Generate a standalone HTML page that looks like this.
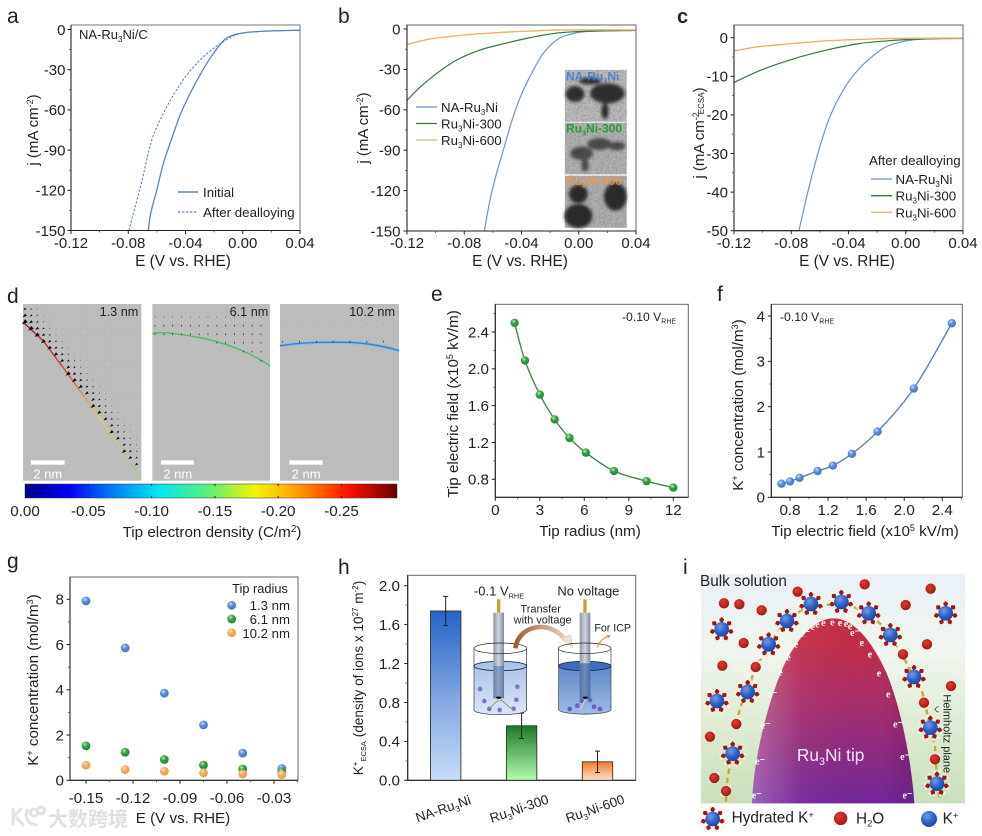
<!DOCTYPE html>
<html lang="en">
<head>
<meta charset="utf-8">
<title>Ru3Ni tip figure</title>
<style>
html,body{margin:0;padding:0;background:#fff;}
#figure{display:block;width:982px;height:836px;filter:blur(.35px);font-family:"Liberation Sans","Noto Sans CJK SC",sans-serif;fill:#222;}
text{font-family:"Liberation Sans","Noto Sans CJK SC",sans-serif;}
</style>
</head>
<body>
<svg id="figure" xmlns="http://www.w3.org/2000/svg" width="982" height="836" viewBox="0 0 982 836">
<defs>
  <radialGradient id="ballBlue" cx=".38" cy=".32" r=".75"><stop offset="0" stop-color="#c9dbf5"/><stop offset=".4" stop-color="#5f8fd8"/><stop offset="1" stop-color="#3f6fc0"/></radialGradient>
  <radialGradient id="ballGreen" cx=".38" cy=".32" r=".75"><stop offset="0" stop-color="#b9e6bb"/><stop offset=".4" stop-color="#39a045"/><stop offset="1" stop-color="#1f8030"/></radialGradient>
  <radialGradient id="ballOrange" cx=".38" cy=".32" r=".75"><stop offset="0" stop-color="#fbe3c2"/><stop offset=".4" stop-color="#f2ac5c"/><stop offset="1" stop-color="#e79a45"/></radialGradient>
  <linearGradient id="barBlue" x1="0" y1="0" x2="0" y2="1"><stop offset="0" stop-color="#2464c8"/><stop offset=".5" stop-color="#7ea4e2"/><stop offset="1" stop-color="#c9dcf8"/></linearGradient>
  <linearGradient id="barGreen" x1="0" y1="0" x2="0" y2="1"><stop offset="0" stop-color="#1c7a2a"/><stop offset="1" stop-color="#b6fab0"/></linearGradient>
  <linearGradient id="barOrange" x1="0" y1="0" x2="0" y2="1"><stop offset="0" stop-color="#f57a24"/><stop offset="1" stop-color="#fde2cc"/></linearGradient>
  <linearGradient id="colorbarFill" x1="0" y1="0" x2="1" y2="0">
    <stop offset="0" stop-color="#00008c"/><stop offset=".12" stop-color="#0000f5"/><stop offset=".22" stop-color="#0070f0"/><stop offset=".36" stop-color="#00e8f0"/><stop offset=".5" stop-color="#60f070"/><stop offset=".62" stop-color="#f5f500"/><stop offset=".73" stop-color="#ffa000"/><stop offset=".87" stop-color="#ff1000"/><stop offset="1" stop-color="#6a0000"/>
  </linearGradient>
  <linearGradient id="edgeFill" x1="0" y1="0" x2="0" y2="1"><stop offset="0" stop-color="#a01818"/><stop offset=".35" stop-color="#e05030"/><stop offset=".6" stop-color="#e8d060"/><stop offset="1" stop-color="#90d080"/></linearGradient>
  <linearGradient id="solutionFill" x1="0" y1="0" x2="0" y2="1"><stop offset="0" stop-color="#eaf1f8"/><stop offset=".35" stop-color="#eff6ee"/><stop offset="1" stop-color="#c9e0b8"/></linearGradient>
  <linearGradient id="tipFill" x1="0" y1="0" x2="0" y2="1"><stop offset="0" stop-color="#cc2c3c"/><stop offset=".45" stop-color="#a82e68"/><stop offset="1" stop-color="#74269c"/></linearGradient>
  <linearGradient id="tipShine" x1="0" y1="0" x2="1" y2="0"><stop offset="0" stop-color="#fff" stop-opacity=".28"/><stop offset=".3" stop-color="#fff" stop-opacity=".04"/><stop offset=".8" stop-color="#000" stop-opacity="0"/><stop offset="1" stop-color="#000" stop-opacity=".12"/></linearGradient>
  <radialGradient id="ionFill" cx=".38" cy=".32" r=".8"><stop offset="0" stop-color="#6f9ce8"/><stop offset=".55" stop-color="#2a5cc0"/><stop offset="1" stop-color="#1c3f90"/></radialGradient>
  <radialGradient id="waterFill" cx=".4" cy=".35" r=".75"><stop offset="0" stop-color="#e03a30"/><stop offset="1" stop-color="#9a1414"/></radialGradient>
  <linearGradient id="liquidLight" x1="0" y1="0" x2="0" y2="1"><stop offset="0" stop-color="#a9c0e8"/><stop offset="1" stop-color="#dbe6f6"/></linearGradient>
  <linearGradient id="liquidDark" x1="0" y1="0" x2="0" y2="1"><stop offset="0" stop-color="#5a82c8"/><stop offset="1" stop-color="#9ebce6"/></linearGradient>
  <linearGradient id="rodFill" x1="0" y1="0" x2="1" y2="0"><stop offset="0" stop-color="#8f98a8"/><stop offset=".5" stop-color="#cfd4dc"/><stop offset="1" stop-color="#8088a0"/></linearGradient>
  <linearGradient id="transferFill" gradientUnits="userSpaceOnUse" x1="552" y1="0" x2="725" y2="0"><stop offset="0" stop-color="#9a5a34"/><stop offset="1" stop-color="#f1e0d0"/></linearGradient>
  <filter id="temNoise" x="0" y="0" width="1" height="1"><feTurbulence type="fractalNoise" baseFrequency=".16" numOctaves="3" seed="4"/><feColorMatrix values="0 0 0 0 .22  0 0 0 0 .22  0 0 0 0 .22  0 0 0 1.2 -.42"/></filter>
  <filter id="soft" x="-30%" y="-30%" width="160%" height="160%"><feGaussianBlur stdDeviation="5"/></filter>
  <g id="hydratedIon">
    <g>
      <g id="ligand"><line x1="0" y1="-18" x2="0" y2="-28" stroke="#8a1c1c" stroke-width="6"/><circle cx="0" cy="-29" r="7" fill="#9a1a1a"/><circle cx="-7" cy="-36" r="4.2" fill="#fbeedd"/><circle cx="7" cy="-36" r="4.2" fill="#fbeedd"/></g>
      <use href="#ligand" transform="rotate(51)"/><use href="#ligand" transform="rotate(103)"/><use href="#ligand" transform="rotate(154)"/><use href="#ligand" transform="rotate(206)"/><use href="#ligand" transform="rotate(257)"/><use href="#ligand" transform="rotate(309)"/>
    </g>
    <circle r="22" fill="url(#ionFill)"/>
  </g>
  <g id="waterMol">
    <circle cx="11" cy="-13" r="6" fill="#fff6ea" stroke="#cdbfae" stroke-width=".8"/>
    <circle cx="-13" cy="10" r="5" fill="#fff6ea" stroke="#cdbfae" stroke-width=".8"/>
    <circle r="15.5" fill="url(#waterFill)"/>
  </g>
</defs>
<rect x="0" y="0" width="982" height="836" fill="#fff"/>

<!-- Panel letters -->
<g font-size="21">
  <text x="7" y="23">a</text>
  <text x="338" y="23">b</text>
  <text x="677" y="23" font-weight="bold" font-size="20">c</text>
  <text x="7" y="303">d</text>
  <text x="431" y="301">e</text>
  <text x="717" y="301">f</text>
  <text x="7" y="568">g</text>
  <text x="338" y="574">h</text>
  <text x="683" y="574">i</text>
</g>

<!-- Panel a -->
<g id="chart-a"></g>
<g>
  <text x="79" y="39" font-size="13">NA-Ru<tspan font-size="8" dy="3">3</tspan><tspan dy="-3">Ni/C</tspan></text>
  <text x="183" y="266" font-size="15.4" text-anchor="middle">E (V vs. RHE)</text>
  <text transform="translate(38,130) rotate(-90)" font-size="15" text-anchor="middle">j (mA cm<tspan font-size="9" dy="-5">-2</tspan><tspan dy="5">)</tspan></text>
  <line x1="178" x2="198" y1="192" y2="192" stroke="#5a84ba" stroke-width="1.6"/>
  <text x="203" y="197" font-size="13.3">Initial</text>
  <line x1="178" x2="198" y1="212" y2="212" stroke="#5a84ba" stroke-width="1.2" stroke-dasharray="2.4 1.6"/>
  <text x="203" y="217" font-size="13.3">After dealloying</text>
</g>

<!-- Panel b -->
<g id="chart-b"></g>
<g>
  <text x="520" y="266" font-size="15.4" text-anchor="middle">E (V vs. RHE)</text>
  <text transform="translate(368,128) rotate(-90)" font-size="15" text-anchor="middle">j (mA cm<tspan font-size="9" dy="-5">-2</tspan><tspan dy="5">)</tspan></text>
  <line x1="416" x2="437" y1="107" y2="107" stroke="#6c95c8" stroke-width="1.3"/>
  <text x="441" y="112" font-size="13.3">NA-Ru<tspan font-size="8" dy="3">3</tspan><tspan dy="-3">Ni</tspan></text>
  <line x1="416" x2="437" y1="123.5" y2="123.5" stroke="#2f7a3a" stroke-width="1.3"/>
  <text x="441" y="128.5" font-size="13.3">Ru<tspan font-size="8" dy="3">3</tspan><tspan dy="-3">Ni-300</tspan></text>
  <line x1="416" x2="437" y1="140" y2="140" stroke="#e8b26d" stroke-width="1.3"/>
  <text x="441" y="145" font-size="13.3">Ru<tspan font-size="8" dy="3">3</tspan><tspan dy="-3">Ni-600</tspan></text>
  <g transform="translate(330,0) scale(.33333)">
    <rect x="705" y="210" width="185" height="155" fill="#bcbcbc"/>
    <rect x="705" y="210" width="185" height="155" filter="url(#temNoise)"/>
    <g fill="#2e2e2e" filter="url(#soft)">
      <ellipse cx="735" cy="282" rx="28" ry="24"/><ellipse cx="832" cy="280" rx="52" ry="30"/><ellipse cx="825" cy="333" rx="11" ry="24"/><ellipse cx="780" cy="243" rx="34" ry="10"/>
    </g>
    <rect x="705" y="368" width="185" height="155" fill="#b2b2b2"/>
    <rect x="705" y="368" width="185" height="155" filter="url(#temNoise)"/>
    <g fill="#484848" filter="url(#soft)">
      <ellipse cx="755" cy="460" rx="34" ry="20"/><ellipse cx="808" cy="432" rx="36" ry="18"/><ellipse cx="860" cy="438" rx="26" ry="13"/><ellipse cx="765" cy="495" rx="11" ry="20"/>
    </g>
    <rect x="705" y="527" width="185" height="156" fill="#b0b0b0"/>
    <rect x="705" y="527" width="185" height="156" filter="url(#temNoise)"/>
    <g fill="#2c2c2c">
      <circle cx="745" cy="582" r="28" filter="url(#soft)"/><ellipse cx="856" cy="590" rx="34" ry="42" filter="url(#soft)"/><ellipse cx="745" cy="648" rx="42" ry="36" filter="url(#soft)"/>
    </g>
    <text x="708" y="241" font-size="36" font-weight="bold" fill="#3f7ccf" opacity=".85">NA-Ru<tspan font-size="22" dy="8">3</tspan><tspan dy="-8">Ni</tspan></text>
    <text x="708" y="398" font-size="36" font-weight="bold" fill="#2b9c3b">Ru<tspan font-size="22" dy="8">3</tspan><tspan dy="-8">Ni-300</tspan></text>
    <text x="708" y="555" font-size="36" font-weight="bold" fill="#e99a4a" opacity=".85">Ru<tspan font-size="22" dy="8">3</tspan><tspan dy="-8">Ni-600</tspan></text>
  </g>
</g>

<!-- Panel c -->
<g id="chart-c"></g>
<g>
  <text x="847" y="266" font-size="15.4" text-anchor="middle">E (V vs. RHE)</text>
  <text transform="translate(704,133) rotate(-90)" font-size="15" text-anchor="middle">j (mA cm<tspan font-size="9" dy="-5">-2</tspan><tspan font-size="8" dy="5" dx="-2">ECSA</tspan><tspan dy="0">)</tspan></text>
  <text x="869" y="165" font-size="13.3">After dealloying</text>
  <line x1="871" x2="892" y1="179" y2="179" stroke="#6c95c8" stroke-width="1.3"/>
  <text x="895.5" y="184" font-size="13.3">NA-Ru<tspan font-size="8" dy="3">3</tspan><tspan dy="-3">Ni</tspan></text>
  <line x1="871" x2="892" y1="195.7" y2="195.7" stroke="#2f7a3a" stroke-width="1.3"/>
  <text x="895.5" y="200.7" font-size="13.3">Ru<tspan font-size="8" dy="3">3</tspan><tspan dy="-3">Ni-300</tspan></text>
  <line x1="871" x2="892" y1="212.3" y2="212.3" stroke="#e8b26d" stroke-width="1.3"/>
  <text x="895.5" y="217.3" font-size="13.3">Ru<tspan font-size="8" dy="3">3</tspan><tspan dy="-3">Ni-600</tspan></text>
</g>

<!-- Panel d -->
<g transform="translate(0,285) scale(.33333)">
  <rect x="69" y="57" width="355" height="530" fill="#bcbcbc"/>
  <rect x="457" y="57" width="353" height="530" fill="#bcbcbc"/>
  <rect x="840" y="57" width="357" height="530" fill="#bcbcbc"/>
  <path d="M70,112 L130,168 L200,262 L300,400 L422,580" fill="none" stroke="url(#edgeFill)" stroke-width="4"/>
  <g id="arrows-1-3nm"></g>
  <path d="M457,145 C490,140 530,145 600,158 C670,172 750,200 810,243" fill="none" stroke="#4cbc5c" stroke-width="4"/>
  <g id="arrows-6-1nm"></g>
  <path d="M840,182 C920,170 1050,168 1110,178 C1150,184 1175,190 1197,197" fill="none" stroke="#8fb8e0" stroke-width="10"/>
  <path d="M840,182 C920,170 1050,168 1110,178 C1150,184 1175,190 1197,197" fill="none" stroke="#3080d0" stroke-width="4"/>
  <g id="arrows-10-2nm"></g>
  <text x="415" y="93" font-size="38" text-anchor="end">1.3 nm</text>
  <text x="805" y="93" font-size="38" text-anchor="end">6.1 nm</text>
  <text x="1185" y="93" font-size="38" text-anchor="end">10.2 nm</text>
  <rect x="93" y="526" width="101" height="13" fill="#fff"/>
  <text x="100" y="580" font-size="39" fill="#fff">2 nm</text>
  <rect x="483" y="526" width="98" height="13" fill="#fff"/>
  <text x="490" y="580" font-size="39" fill="#fff">2 nm</text>
  <rect x="868" y="526" width="100" height="13" fill="#fff"/>
  <text x="875" y="580" font-size="39" fill="#fff">2 nm</text>
</g>
<rect x="25" y="484" width="372" height="14" fill="url(#colorbarFill)" stroke="#333" stroke-width=".5"/>
<g id="colorbar-axis"></g>
<text x="212" y="537" font-size="15.2" text-anchor="middle">Tip electron density (C/m<tspan font-size="10" dy="-5">2</tspan><tspan dy="5">)</tspan></text>

<!-- Panel e -->
<g id="chart-e"></g>
<g>
  <text x="590" y="536" font-size="15.2" text-anchor="middle">Tip radius (nm)</text>
  <text transform="translate(458,404) rotate(-90)" font-size="15.2" text-anchor="middle">Tip electric field (x10<tspan font-size="9" dy="-5">5</tspan><tspan dy="5"> kV/m)</tspan></text>
  <text x="622" y="321" font-size="12.2">-0.10 V<tspan font-size="7" dy="2.5">RHE</tspan></text>
</g>

<!-- Panel f -->
<g id="chart-f"></g>
<g>
  <text x="865" y="536" font-size="15.2" text-anchor="middle">Tip electric field (x10<tspan font-size="9" dy="-5">5</tspan><tspan dy="5"> kV/m)</tspan></text>
  <text transform="translate(743,405) rotate(-90)" font-size="15.2" text-anchor="middle">K<tspan font-size="9" dy="-5">+</tspan><tspan dy="5"> concentration (mol/m</tspan><tspan font-size="9" dy="-5">3</tspan><tspan dy="5">)</tspan></text>
  <text x="780" y="321" font-size="12.2">-0.10 V<tspan font-size="7" dy="2.5">RHE</tspan></text>
</g>

<!-- Panel g -->
<g id="chart-g"></g>
<g>
  <text x="183" y="823" font-size="15.2" text-anchor="middle">E (V vs. RHE)</text>
  <text transform="translate(38,680) rotate(-90)" font-size="15.2" text-anchor="middle">K<tspan font-size="9" dy="-5">+</tspan><tspan dy="5"> concentration (mol/m</tspan><tspan font-size="9" dy="-5">3</tspan><tspan dy="5">)</tspan></text>
  <text x="260" y="593" font-size="12.8" text-anchor="middle">Tip radius</text>
  <circle cx="231.7" cy="605.3" r="4.4" fill="url(#ballBlue)"/>
  <text x="290" y="610" font-size="13.2" text-anchor="end">1.3 nm</text>
  <circle cx="231.7" cy="619" r="4.4" fill="url(#ballGreen)"/>
  <text x="290" y="624" font-size="13.2" text-anchor="end">6.1 nm</text>
  <circle cx="231.7" cy="632.7" r="4.4" fill="url(#ballOrange)"/>
  <text x="290" y="638" font-size="13.2" text-anchor="end">10.2 nm</text>
  <g>
    <path d="M13,808 L13,825 M13,817 L22,808 M16,817 L24,826 M28,809 C24,814 26,825 38,825 M34,809 a3.5,3.5 0 1,0 .1,0 M41,807 a3.5,3.5 0 1,0 .1,0" fill="none" stroke="#e2e2e2" stroke-width="3"/>
    <text x="48" y="826" font-size="20" font-weight="bold" fill="#e0e0e0" style="font-family:'Noto Sans CJK SC',sans-serif">大数跨境</text>
  </g>
</g>

<!-- Panel h -->
<g id="chart-h"></g>
<text transform="translate(363,678) rotate(-90)" font-size="13.6" text-anchor="middle">K<tspan font-size="8" dy="-5">+</tspan><tspan font-size="7.5" dy="8">ECSA</tspan><tspan dy="-3"> (density of ions x 10</tspan><tspan font-size="8" dy="-5">27</tspan><tspan dy="5"> m</tspan><tspan font-size="8" dy="-5">-2</tspan><tspan dy="5">)</tspan></text>
<g transform="translate(330,550) scale(.33333)">
  <g>
    <path d="M432,348 A79,14 0 0 1 590,348 L590,480 A79,14 0 0 1 432,480 Z" fill="url(#liquidLight)"/>
    <ellipse cx="511" cy="348" rx="79" ry="14" fill="none" stroke="#1c2c50" stroke-width="2.5"/>
    <rect x="501" y="148" width="10" height="40" fill="#c9a030"/>
    <rect x="490" y="188" width="32" height="257" fill="url(#rodFill)"/>
    <rect x="490" y="348" width="32" height="97" fill="#3f66a8" opacity=".45"/>
    <ellipse cx="506" cy="443" rx="8" ry="3.5" fill="#111"/>
    <path d="M432,295 L432,480 A79,14 0 0 0 590,480 L590,295" fill="none" stroke="#333" stroke-width="2"/>
    <ellipse cx="511" cy="295" rx="79" ry="16" fill="none" stroke="#222" stroke-width="2"/>
    <g fill="#8076c4">
      <circle cx="450" cy="417" r="7"/><circle cx="562" cy="410" r="7"/><circle cx="463" cy="453" r="7"/><circle cx="559" cy="449" r="7"/><circle cx="478" cy="477" r="7"/><circle cx="509" cy="480" r="7"/><circle cx="551" cy="476" r="7"/>
    </g>
    <path d="M506,450 C495,462 490,458 483,472 M510,450 C525,452 530,470 545,475" fill="none" stroke="#9a6a3a" stroke-width="2"/>
  </g>
  <path d="M556,295 C565,225 660,205 708,272" fill="none" stroke="url(#transferFill)" stroke-width="14"/>
  <polygon points="694,264 722,254 728,294" fill="#f1e0d0" stroke="#c0a890" stroke-width="1"/>
  <g>
    <path d="M686,348 A79,14 0 0 1 843,348 L843,480 A79,14 0 0 1 686,480 Z" fill="url(#liquidDark)"/>
    <ellipse cx="764" cy="348" rx="79" ry="14" fill="#3f6cb8" stroke="#1c2c50" stroke-width="2.5"/>
    <rect x="760" y="148" width="10" height="40" fill="#c9a030"/>
    <rect x="749" y="188" width="32" height="257" fill="url(#rodFill)"/>
    <rect x="749" y="340" width="32" height="105" fill="#2f5aa8" opacity=".6"/>
    <ellipse cx="766" cy="443" rx="8" ry="3.5" fill="#111"/>
    <path d="M686,295 L686,480 A79,14 0 0 0 843,480 L843,295" fill="none" stroke="#333" stroke-width="2"/>
    <ellipse cx="764" cy="295" rx="79" ry="16" fill="none" stroke="#222" stroke-width="2"/>
    <g fill="#6a60bc">
      <circle cx="742" cy="467" r="7"/><circle cx="755" cy="452" r="7"/><circle cx="780" cy="450" r="7"/><circle cx="719" cy="477" r="7"/><circle cx="792" cy="470" r="7"/><circle cx="810" cy="477" r="7"/>
    </g>
    <path d="M764,450 C760,465 755,470 750,480" fill="none" stroke="#e0d8a0" stroke-width="3"/>
  </g>
  <path d="M802,292 C810,272 822,262 838,258" fill="none" stroke="#d88a3a" stroke-width="3"/>
  <polygon points="842,256 830,255 834,266" fill="#d88a3a"/>
  <text x="432" y="137" font-size="39">-0.1 V<tspan font-size="22" dy="9">RHE</tspan></text>
  <text x="682" y="137" font-size="39">No voltage</text>
  <text x="632" y="188" font-size="33" text-anchor="middle">Transfer</text>
  <text x="638" y="221" font-size="33" text-anchor="middle">with voltage</text>
  <text x="793" y="244" font-size="32">For ICP</text>
</g>

<!-- Panel i -->
<g transform="translate(670,550) scale(.33333)">
  <rect x="93" y="72" width="792" height="688" fill="url(#solutionFill)"/>
  <path d="M246,760 C250,640 285,480 340,350 C390,245 445,205 490,205 C545,205 600,260 650,370 C695,480 725,640 733,760 Z" fill="url(#tipFill)"/>
  <path d="M246,760 C250,640 285,480 340,350 C390,245 445,205 490,205 C545,205 600,260 650,370 C695,480 725,640 733,760 Z" fill="url(#tipShine)"/>
  <path d="M168,755 L172,690 L180,640 M205,495 L215,460 L235,426 L245,385 L257,350 L285,310 L320,250 L350,213 L395,180 L423,162 M470,165 L514,156 L560,175 L596,190 L640,230 L661,255 L700,320 L730,380 L755,420 L765,460 L781,533 L795,590 L798,628 L801,700 L810,755" fill="none" stroke="#cfa52e" stroke-width="7" stroke-dasharray="16 12"/>
  <g>
    <use href="#waterMol" x="584" y="103"/>
    <use href="#waterMol" x="782" y="116"/>
    <use href="#waterMol" x="383" y="125"/>
    <use href="#waterMol" x="162" y="160"/>
    <use href="#waterMol" x="208" y="163"/>
    <use href="#waterMol" x="275" y="181"/>
    <use href="#waterMol" x="707" y="165"/>
    <use href="#waterMol" x="221" y="279"/>
    <use href="#waterMol" x="771" y="283"/>
    <use href="#waterMol" x="699" y="313"/>
    <use href="#waterMol" x="157" y="347"/>
    <use href="#waterMol" x="257" y="351"/>
    <use href="#waterMol" x="843" y="408"/>
    <use href="#waterMol" x="762" y="458"/>
    <use href="#waterMol" x="199" y="522"/>
    <use href="#waterMol" x="120" y="560"/>
    <use href="#waterMol" x="795" y="628"/>
    <use href="#waterMol" x="133" y="684"/>
    <use href="#waterMol" x="168" y="723"/>
  </g>
  <g>
    <use href="#hydratedIon" x="155" y="238"/>
    <use href="#hydratedIon" x="296" y="283"/>
    <use href="#hydratedIon" x="351" y="213"/>
    <use href="#hydratedIon" x="423" y="162"/>
    <use href="#hydratedIon" x="514" y="156"/>
    <use href="#hydratedIon" x="596" y="190"/>
    <use href="#hydratedIon" x="661" y="255"/>
    <use href="#hydratedIon" x="732" y="381"/>
    <use href="#hydratedIon" x="233" y="426"/>
    <use href="#hydratedIon" x="141" y="453"/>
    <use href="#hydratedIon" x="781" y="533"/>
    <use href="#hydratedIon" x="188" y="611"/>
    <use href="#hydratedIon" x="801" y="701"/>
    <use href="#hydratedIon" x="827" y="190"/>
  </g>
  <g fill="#fff" font-size="30" font-weight="bold" text-anchor="middle" style="font-family:'Liberation Serif',serif">
    <text x="260" y="746" style="font-family:'Liberation Serif',serif">e⁻</text><text x="270" y="643" style="font-family:'Liberation Serif',serif">e⁻</text><text x="287" y="536" style="font-family:'Liberation Serif',serif">e⁻</text><text x="307" y="443" style="font-family:'Liberation Serif',serif">e⁻</text><text x="331" y="376" style="font-family:'Liberation Serif',serif">e</text><text x="355" y="331" style="font-family:'Liberation Serif',serif">e</text><text x="378" y="293" style="font-family:'Liberation Serif',serif">e</text><text x="406" y="260" style="font-family:'Liberation Serif',serif">e⁻</text><text x="428" y="240" style="font-family:'Liberation Serif',serif">e</text><text x="442" y="233" style="font-family:'Liberation Serif',serif">e</text><text x="460" y="228" style="font-family:'Liberation Serif',serif">e</text><text x="487" y="226" style="font-family:'Liberation Serif',serif">e</text><text x="510" y="228" style="font-family:'Liberation Serif',serif">e</text><text x="528" y="231" style="font-family:'Liberation Serif',serif">e</text><text x="540" y="238" style="font-family:'Liberation Serif',serif">e</text><text x="555" y="258" style="font-family:'Liberation Serif',serif">e⁻</text><text x="575" y="288" style="font-family:'Liberation Serif',serif">e</text><text x="600" y="323" style="font-family:'Liberation Serif',serif">e</text><text x="627" y="380" style="font-family:'Liberation Serif',serif">e</text><text x="655" y="443" style="font-family:'Liberation Serif',serif">e</text><text x="684" y="533" style="font-family:'Liberation Serif',serif">e⁻</text><text x="705" y="630" style="font-family:'Liberation Serif',serif">e⁻</text><text x="712" y="746" style="font-family:'Liberation Serif',serif">e⁻</text>
  </g>
  <text x="90" y="108" font-size="46">Bulk solution</text>
  <text x="482" y="633" font-size="52" fill="#f4ecf8" text-anchor="middle">Ru<tspan font-size="32" dy="12">3</tspan><tspan dy="-12">Ni tip</tspan></text>
  <path d="M806,470 C796,470 800,476 794,478 C800,480 796,486 806,486" fill="none" stroke="#333" stroke-width="2"/>
  <text transform="translate(820,433) rotate(90)" font-size="33">Helmholtz plane</text>
  <use href="#hydratedIon" x="128" y="807"/>
  <text x="185" y="818" font-size="46">Hydrated K<tspan font-size="28" dy="-14">+</tspan></text>
  <g transform="translate(512,805) scale(1.3)">
    <use href="#waterMol"/>
  </g>
  <text x="558" y="820" font-size="46">H<tspan font-size="28" dy="10">2</tspan><tspan dy="-10">O</tspan></text>
  <circle cx="777" cy="807" r="24" fill="url(#ionFill)"/>
  <text x="818" y="820" font-size="46">K<tspan font-size="28" dy="-14">+</tspan></text>
</g>

<script>
// ---------- chart data ----------
const eTickLabels = ['-0.12', '-0.08', '-0.04', '0.00', '0.04'];
const eTicks = [-0.12, -0.08, -0.04, 0, 0.04];
const jTicks150 = [0, -30, -60, -90, -120, -150];
const jTicks50 = [0, -10, -20, -30, -40, -50];

const aInitialE = [-0.066, -0.0643, -0.0601, -0.0555, -0.0508, -0.0438, -0.0369, -0.0299, -0.0229, -0.0136, -0.0066, 0.0027, 0.0167, 0.04];
const aInitialJ = [-150, -137, -120, -100, -85, -64, -48, -34, -21.6, -8.5, -4.2, -2.2, -1.2, -0.5];
const aAfterE = [-0.0795, -0.0764, -0.0706, -0.0636, -0.0555, -0.0485, -0.0392, -0.0299, -0.0206, -0.0136, -0.0019, 0.0167, 0.04];
const aAfterJ = [-150, -137, -113.7, -82.6, -62.7, -49, -34, -22.9, -14.2, -9.2, -3, -1.2, -0.5];

const bNaE = [-0.066, -0.062, -0.0574, -0.0527, -0.048, -0.0434, -0.0387, -0.0317, -0.0247, -0.0154, -0.0061, 0.0079, 0.04];
const bNaJ = [-150, -127, -107, -90, -72.5, -57.7, -45.3, -30.4, -18, -8.2, -4, -1.7, -1];
const b300E = [-0.12, -0.111, -0.0993, -0.0853, -0.069, -0.0527, -0.034, -0.0154, 0.0032, 0.04];
const b300J = [-53, -43.3, -33, -23, -15.6, -11, -6.4, -3, -1.7, -1];
const b600E = [-0.12, -0.1039, -0.0806, -0.0574, -0.034, -0.0108, 0.04];
const b600J = [-11.6, -7.4, -4.5, -2.7, -1.5, -0.7, -0.7];

const cNaE = [-0.0746, -0.0681, -0.06, -0.053, -0.0437, -0.0344, -0.0251, -0.0135, 0.0005, 0.0144, 0.04];
const cNaJ = [-50, -39.5, -28.2, -20.5, -13.6, -8.8, -5.4, -2.3, -0.8, -0.3, -0.1];
const c300E = [-0.12, -0.1019, -0.0786, -0.0553, -0.0321, -0.0088, 0.0144, 0.04];
const c300J = [-11.6, -8.5, -5.5, -3.2, -1.5, -0.7, -0.3, -0.2];
const c600E = [-0.12, -0.1019, -0.0786, -0.0553, -0.0321, -0.0088, 0.04];
const c600J = [-3.4, -2.3, -1.5, -0.8, -0.45, -0.2, -0.1];

const colorbarTicks = [0, -0.05, -0.10, -0.15, -0.20, -0.25];
const colorbarLabels = ['0.00', '-0.05', '-0.10', '-0.15', '-0.20', '-0.25'];

const eRadius = [1.3, 2, 3, 4, 5, 6.1, 8, 10.2, 12];
const eField = [2.5, 2.09, 1.72, 1.45, 1.25, 1.09, 0.89, 0.78, 0.71];
const eXTicks = [0, 3, 6, 9, 12];
const eXLabels = ['0', '3', '6', '9', '12'];
const eYTicks = [0.8, 1.2, 1.6, 2.0, 2.4];
const eYLabels = ['0.8', '1.2', '1.6', '2.0', '2.4'];

const fField = [0.71, 0.8, 0.9, 1.09, 1.25, 1.45, 1.72, 2.1, 2.5];
const fConc = [0.3, 0.35, 0.43, 0.58, 0.7, 0.96, 1.45, 2.4, 3.84];
const fXTicks = [0.8, 1.2, 1.6, 2.0, 2.4];
const fXLabels = ['0.8', '1.2', '1.6', '2.0', '2.4'];
const fYTicks = [0, 1, 2, 3, 4];
const fYLabels = ['0', '1', '2', '3', '4'];

const gPotential = [-0.15, -0.125, -0.10, -0.075, -0.05, -0.025];
const gConc13 = [7.93, 5.85, 3.85, 2.45, 1.2, 0.52];
const gConc61 = [1.52, 1.24, 0.92, 0.67, 0.5, 0.38];
const gConc102 = [0.67, 0.47, 0.4, 0.33, 0.28, 0.25];
const gXTicks = [-0.15, -0.12, -0.09, -0.06, -0.03];
const gXLabels = ['-0.15', '-0.12', '-0.09', '-0.06', '-0.03'];
const gYTicks = [0, 2, 4, 6, 8];
const gYLabels = ['0', '2', '4', '6', '8'];

const hCategories = ['NA-Ru_3_Ni', 'Ru_3_Ni-300', 'Ru_3_Ni-600'];
const hValues = [1.74, 0.56, 0.19];
const hErrors = [0.15, 0.13, 0.11];
const hYTicks = [0, 0.4, 0.8, 1.2, 1.6, 2.0];
const hYLabels = ['0.0', '0.4', '0.8', '1.2', '1.6', '2.0'];

// ---------- helpers ----------
const SVGNS = 'http://www.w3.org/2000/svg';
function make(tag, attrs, parent) {
  const el = document.createElementNS(SVGNS, tag);
  for (const k in attrs) el.setAttribute(k, attrs[k]);
  parent.appendChild(el);
  return el;
}
function linear(d0, d1, r0, r1) {
  return function (v) { return r0 + (v - d0) * (r1 - r0) / (d1 - d0); };
}
function smoothPath(xs, ys) {
  let d = 'M' + xs[0].toFixed(2) + ',' + ys[0].toFixed(2);
  for (let i = 0; i < xs.length - 1; i++) {
    const x0 = xs[Math.max(i - 1, 0)], y0 = ys[Math.max(i - 1, 0)];
    const x3 = xs[Math.min(i + 2, xs.length - 1)], y3 = ys[Math.min(i + 2, ys.length - 1)];
    const c1x = xs[i] + (xs[i + 1] - x0) / 6, c1y = ys[i] + (ys[i + 1] - y0) / 6;
    const c2x = xs[i + 1] - (x3 - xs[i]) / 6, c2y = ys[i + 1] - (y3 - ys[i]) / 6;
    d += 'C' + c1x.toFixed(2) + ',' + c1y.toFixed(2) + ' ' + c2x.toFixed(2) + ',' + c2y.toFixed(2) + ' ' + xs[i + 1].toFixed(2) + ',' + ys[i + 1].toFixed(2);
  }
  return d;
}
function minorValues(ticks) {
  const out = [];
  const step = (ticks[1] - ticks[0]) / 2;
  out.push(ticks[0] - step);
  for (let i = 0; i < ticks.length; i++) out.push(ticks[i] + step);
  return out;
}
function drawAxes(parent, box, xS, yS, xTicks, xLabels, yTicks, yLabels, opt) {
  const frame = make('rect', { x: box.l, y: box.t, width: box.r - box.l, height: box.b - box.t, fill: 'none', stroke: opt.frame || '#666', 'stroke-width': 1 }, parent);
  
  
  const xAxis = make('line', { x1: box.l, x2: box.r, y1: box.b, y2: box.b, stroke: '#222', 'stroke-width': 1.1 }, parent);
  
  
  const yAxis = make('line', { x1: box.l, x2: box.l, y1: box.t, y2: box.b, stroke: '#222', 'stroke-width': 1.1 }, parent);
  
  
  xTicks.forEach(function (v, i) {
    const x = xS(v);
    const t = make('line', { x1: x, x2: x, y1: box.b, y2: box.b + 3.5, stroke: '#222', 'stroke-width': 1 }, parent);
    
    
    const lab = make('text', { x: x, y: opt.xLabelY, 'font-size': opt.tickSize || 15, 'text-anchor': 'middle' }, parent);
    
    
    lab.textContent = xLabels[i];
  });
  if (xTicks.length) minorValues(xTicks).forEach(function (v) {
    const x = xS(v);
    if (x < box.l || x > box.r) return;
    const t = make('line', { x1: x, x2: x, y1: box.b, y2: box.b + 2, stroke: '#444', 'stroke-width': .8 }, parent);
    
    
  });
  yTicks.forEach(function (v, i) {
    const y = yS(v);
    const t = make('line', { x1: box.l - 3.5, x2: box.l, y1: y, y2: y, stroke: '#222', 'stroke-width': 1 }, parent);
    
    
    const lab = make('text', { x: opt.yLabelX, y: y + 5.3, 'font-size': opt.tickSize || 15, 'text-anchor': 'end' }, parent);
    
    
    lab.textContent = yLabels[i];
  });
  minorValues(yTicks).forEach(function (v) {
    const y = yS(v);
    if (y < box.t || y > box.b) return;
    const t = make('line', { x1: box.l - 2, x2: box.l, y1: y, y2: y, stroke: '#444', 'stroke-width': .8 }, parent);
    
    
  });
}
function drawCurve(parent, xS, yS, xs, ys, color, width, dash, name) {
  const p = make('path', { d: smoothPath(xs.map(xS), ys.map(yS)), fill: 'none', stroke: color, 'stroke-width': width }, parent);
  if (dash) p.setAttribute('stroke-dasharray', dash);
  
  
}
function drawDots(parent, xS, yS, xs, ys, fill, r, name) {
  xs.forEach(function (v, i) {
    const c = make('circle', { cx: xS(v), cy: yS(ys[i]), r: r, fill: fill }, parent);
    
    
  });
}
function richText(el, str, fs) {
  const parts = str.split('_');
  parts.forEach(function (part, i) {
    const ts = make('tspan', {}, el);
    if (i % 2 === 1) { ts.setAttribute('font-size', fs * .62); ts.setAttribute('dy', 3); }
    else if (i > 0) { ts.setAttribute('dy', -3); }
    ts.textContent = part;
  });
}

const BLUE = '#6c95c8', BLUE_A = '#5a84ba', GREEN = '#2f7a3a', ORANGE = '#e8b26d';
const eLabelsList = eTickLabels;

// ---------- panel a ----------
(function () {
  const g = document.getElementById('chart-a');
  const box = { l: 71, r: 300, t: 25, b: 230.5 };
  const x = linear(-0.12, 0.04, box.l, box.r), y = linear(0, -150, 29.5, 230.5);
  drawCurve(g, x, y, aInitialE, aInitialJ, BLUE_A, 1.3, null, 'curve-initial');
  drawCurve(g, x, y, aAfterE, aAfterJ, BLUE_A, 1.1, '2.4 1.6', 'curve-after-dealloying');
  drawAxes(g, box, x, y, eTicks, eLabelsList, jTicks150, jTicks150.map(String), { xLabelY: 248, yLabelX: 65.5, frame: '#777' });
})();
// ---------- panel b ----------
(function () {
  const g = document.getElementById('chart-b');
  const box = { l: 407, r: 636, t: 25, b: 231 };
  const x = linear(-0.12, 0.04, box.l, box.r), y = linear(0, -150, 29, 231);
  drawCurve(g, x, y, bNaE, bNaJ, BLUE, 1.2, null, 'curve-na-ru3ni');
  drawCurve(g, x, y, b300E, b300J, GREEN, 1.2, null, 'curve-ru3ni-300');
  drawCurve(g, x, y, b600E, b600J, ORANGE, 1.4, null, 'curve-ru3ni-600');
  drawAxes(g, box, x, y, eTicks, eLabelsList, jTicks150, jTicks150.map(String), { xLabelY: 248, yLabelX: 400.5 });
})();
// ---------- panel c ----------
(function () {
  const g = document.getElementById('chart-c');
  const box = { l: 734, r: 963, t: 25, b: 230.7 };
  const x = linear(-0.12, 0.04, box.l, box.r), y = linear(0, -50, 37.7, 230.7);
  drawCurve(g, x, y, cNaE, cNaJ, BLUE, 1.2, null, 'curve-c-na-ru3ni');
  drawCurve(g, x, y, c300E, c300J, GREEN, 1.2, null, 'curve-c-ru3ni-300');
  drawCurve(g, x, y, c600E, c600J, ORANGE, 1.4, null, 'curve-c-ru3ni-600');
  drawAxes(g, box, x, y, eTicks, eLabelsList, jTicks50, jTicks50.map(String), { xLabelY: 248, yLabelX: 728 });
})();
// ---------- colorbar ----------
(function () {
  const g = document.getElementById('colorbar-axis');
  const x = linear(0, -0.25, 25, 341.5);
  colorbarTicks.forEach(function (v, i) {
    if (i > 0) {
      const t = make('line', { x1: x(v), x2: x(v), y1: 484, y2: 498, stroke: '#222', 'stroke-width': 1, 'stroke-dasharray': '2 10' }, g);
      
      
    }
    const lab = make('text', { x: x(v), y: 516, 'font-size': 15.2, 'text-anchor': 'middle' }, g);
    
    
    lab.textContent = colorbarLabels[i];
  });
})();
// ---------- panel e ----------
(function () {
  const g = document.getElementById('chart-e');
  const box = { l: 495.3, r: 688.3, t: 304.3, b: 497.3 };
  const x = linear(0, 12, box.l, 673.3), y = linear(0.8, 2.4, 479.3, 332);
  drawCurve(g, x, y, eRadius, eField, '#3f8a4a', 1.4, null, 'field-vs-radius-line');
  drawDots(g, x, y, eRadius, eField, 'url(#ballGreen)', 4.2, 'field-vs-radius-point');
  drawAxes(g, box, x, y, eXTicks, eXLabels, eYTicks, eYLabels, { xLabelY: 515, yLabelX: 489, tickSize: 15.2 });
})();
// ---------- panel f ----------
(function () {
  const g = document.getElementById('chart-f');
  const box = { l: 771.3, r: 962.3, t: 304.3, b: 497.3 };
  const x = linear(0.8, 2.4, 790, 942.3), y = linear(0, 4, 497.3, 316);
  drawCurve(g, x, y, fField, fConc, '#5a82b8', 1.4, null, 'conc-vs-field-line');
  drawDots(g, x, y, fField, fConc, 'url(#ballBlue)', 4.2, 'conc-vs-field-point');
  drawAxes(g, box, x, y, fXTicks, fXLabels, fYTicks, fYLabels, { xLabelY: 515, yLabelX: 765, tickSize: 15.2 });
})();
// ---------- panel g ----------
(function () {
  const g = document.getElementById('chart-g');
  const box = { l: 70, r: 298, t: 577, b: 780.3 };
  const x = linear(-0.15, -0.03, 86, 274), y = linear(0, 8, 780.3, 599.3);
  drawAxes(g, box, x, y, gXTicks, gXLabels, gYTicks, gYLabels, { xLabelY: 803, yLabelX: 64, tickSize: 15.2 });
  drawDots(g, x, y, gPotential, gConc13, 'url(#ballBlue)', 4.4, 'series-1-3nm-point');
  drawDots(g, x, y, gPotential, gConc61, 'url(#ballGreen)', 4.4, 'series-6-1nm-point');
  drawDots(g, x, y, gPotential, gConc102, 'url(#ballOrange)', 4.4, 'series-10-2nm-point');
})();
// ---------- panel h ----------
(function () {
  const g = document.getElementById('chart-h');
  const box = { l: 407.7, r: 635.7, t: 575.3, b: 780.3 };
  const y = linear(0, 2.0, 780.3, 585.7);
  const band = linear(0, 2, 445.7, 597.5);
  const fills = ['url(#barBlue)', 'url(#barGreen)', 'url(#barOrange)'];
  drawAxes(g, box, function (v) { return v; }, y, [], [], hYTicks, hYLabels, { xLabelY: 800, yLabelX: 400, tickSize: 15.2 });
  hValues.forEach(function (v, i) {
    const cx = band(i);
    const bar = make('rect', { x: cx - 15.2, y: y(v), width: 30.4, height: y(0) - y(v), fill: fills[i], stroke: '#2a3a2a', 'stroke-width': .9 }, g);
    
    
    const err = make('path', { d: 'M' + (cx - 2.5) + ',' + y(v + hErrors[i]) + 'h5M' + cx + ',' + y(v + hErrors[i]) + 'V' + y(v - hErrors[i]) + 'M' + (cx - 2.5) + ',' + y(v - hErrors[i]) + 'h5', fill: 'none', stroke: '#222', 'stroke-width': 1 }, g);
    
    
    const lab = make('text', { transform: 'translate(' + (cx - 1) + ',813) rotate(-19)', 'font-size': 13.4, 'text-anchor': 'middle' }, g);
    
    
    richText(lab, hCategories[i], 13.4);
  });
})();
// ---------- panel d field arrows (schematic) ----------
(function () {
  const g1 = document.getElementById('arrows-1-3nm');
  for (let j = 0; j < 27; j++) {
    const yy = 72 + j * 19.4;
    for (let k = 0; k < 19; k++) {
      const xx = 75 + k * 18.6;
      const edge = 70 + (yy - 112) * 0.752 + 16 * Math.sin(Math.PI * Math.min(1, Math.max(0, (yy - 112) / 468)));
      const dist = xx - edge;
      if (dist < 3 || xx > 420) continue;
      const s = Math.max(1, (11.5 - j * .18) * Math.exp(-dist / 42));
      const tri = make('polygon', { points: (xx - s) + ',' + (yy + s * .75) + ' ' + (xx + s * .85) + ',' + (yy + s * .15) + ' ' + xx + ',' + (yy - s * .85), fill: '#0d0d0d', opacity: Math.min(1, .3 + s / 5) }, g1);
      
      
    }
  }
  const g2 = document.getElementById('arrows-6-1nm');
  for (let j = 0; j < 7; j++) {
    const yy = [72, 96, 122, 148, 173, 200, 227][j];
    for (let k = 0; k < 13; k++) {
      const xx = 465 + k * 26.5;
      const curveY = 142 + Math.pow(Math.max(0, xx - 490) / 320, 2) * 100;
      if (yy > curveY + 6) continue;
      const s = j === 0 ? 1 : 1.2 + (yy > 110 ? 1.2 : .4);
      const dot = make('rect', { x: xx - s / 2, y: yy - s, width: s, height: s * 2, fill: '#1a1a1a', opacity: j === 0 ? .4 : .9 }, g2);
      
      
    }
  }
  const g3 = document.getElementById('arrows-10-2nm');
  for (let j = 0; j < 3; j++) {
    const yy = [68, 117, 170][j];
    for (let k = 0; k < 7; k++) {
      const xx = 848 + k * 50.5;
      const s = j === 2 ? 2.4 : (j === 1 ? 1.4 : 1);
      const dot = make('rect', { x: xx - s / 2, y: yy - s, width: s, height: s * 2, fill: '#1a1a1a', opacity: j === 2 ? .95 : .45 }, g3);
      
      
    }
  }
})();
</script>
</svg>
</body>
</html>
